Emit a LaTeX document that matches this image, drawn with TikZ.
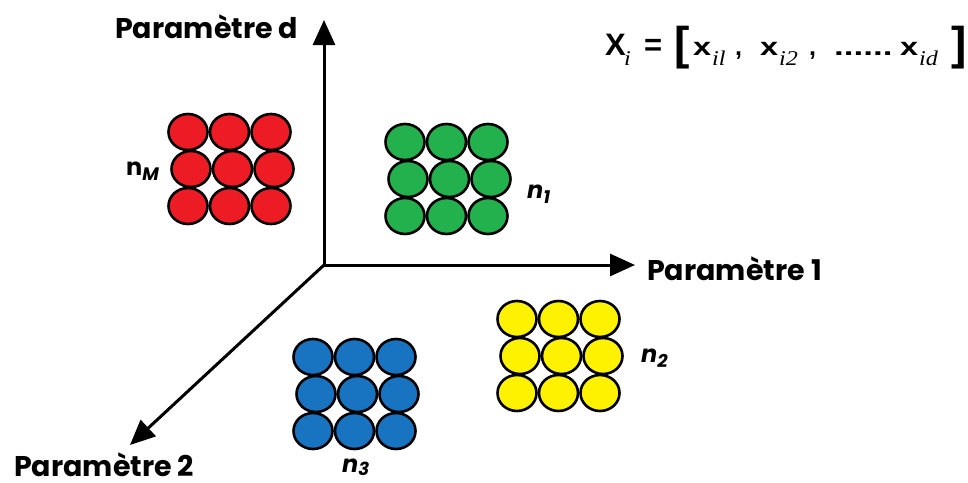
\documentclass[tikz,border=0pt]{standalone}
\usepackage{fontspec}
\setmainfont{Poppins}
\newfontfamily\formfont{Liberation Sans}
\newfontfamily\subfont{Liberation Serif}
\usetikzlibrary{arrows.meta,shapes.geometric}
\tikzset{
  axis/.style={line width=3pt,-{Triangle[length=25pt,width=22pt]}},
  axlabel/.style={font=\fontsize{28.5}{29}\selectfont\bfseries,inner sep=0pt,anchor=base west},
  grp/.style={font=\fontsize{24}{24}\selectfont\bfseries\itshape,inner sep=0pt,anchor=base west},
  ball/.style={ellipse,draw=black,line width=2.6pt,minimum width=39pt,minimum height=36pt,inner sep=0pt},
}
\definecolor{cred}{HTML}{ED1C24}
\definecolor{cgreen}{HTML}{22B14C}
\definecolor{cyellow}{HTML}{FFF200}
\definecolor{cblue}{HTML}{1874C0}
\newcommand{\putat}[2]{\rlap{\hspace*{#1pt}#2}}
\newcommand{\sbs}[1]{\raisebox{-10pt}{\scalebox{1.15}[1]{\fontsize{21}{21}\selectfont\subfont\mdseries\itshape #1}}}
\newcommand{\bx}{\scalebox{1.3}[1]{\fontsize{25}{25}\selectfont x}}
\begin{document}
\begin{tikzpicture}[x=1pt,y=-1pt]
\useasboundingbox (0,0) rectangle (968,482);
\coordinate (O) at (324,265);
\coordinate (Dtip) at (324,20);
\coordinate (Atip) at (635,265);
\coordinate (Btip) at (130,445);
\draw[axis] (O) -- (Dtip);
\draw[axis] (O) -- (Atip);
\draw[axis] (O) -- (Btip);
\node[axlabel] (ld) at (115,38) {Paramètre d};
\node[axlabel] (l1) at (647,280) {Paramètre 1};
\node[axlabel] (l2) at (14,476) {\raisebox{0pt}[\height][0pt]{Paramètre 2}};
% groups
\foreach \c/\x/\y/\nm in {cred/188/132/r,cgreen/405/142/g,cyellow/517/319/y,cblue/313/357/b}{
  \foreach \i in {0,1,2}{
    \foreach \j in {0,1,2}{
      \node[ball,fill=\c] (\nm\i\j) at ({\x+41.5*\i+(\j==1?3:0)},{\y+37*\j}) {};
    }
  }
}
\node[inner sep=0pt,anchor=base west,font=\fontsize{24}{24}\selectfont\bfseries] (nM) at (126,175) {n\raisebox{-5pt}{\fontsize{18}{18}\selectfont\itshape M}};
\node[grp] (n1) at (527,198) {n\raisebox{-5pt}{\fontsize{18}{18}\selectfont 1}};
\node[grp] (n2) at (641,362) {n\raisebox{-5pt}{\fontsize{18}{18}\selectfont 2}};
\node[grp] (n3) at (342,472) {n\raisebox{-3pt}{\fontsize{18}{18}\selectfont 3}};
\node[inner sep=0pt,anchor=base west,font=\formfont\bfseries] (form) at (605,55)
 {\putat{0}{\fontsize{31}{31}\selectfont X}%
  \putat{19}{\sbs{i}}%
  \putat{39}{\fontsize{31}{31}\selectfont =}%
  \putat{69}{\raisebox{-4pt}{\fontsize{46}{46}\selectfont [}}%
  \putat{88}{\bx}%
  \putat{107}{\sbs{il}}%
  \putat{130}{\fontsize{25}{25}\selectfont ,}%
  \putat{155}{\bx}%
  \putat{174}{\sbs{i2}}%
  \putat{204}{\fontsize{25}{25}\selectfont ,}%
  \putat{229}{\scalebox{1.4}[1]{\fontsize{25}{25}\selectfont ......}}%
  \putat{295}{\bx}%
  \putat{314}{\sbs{id}}%
  \putat{346}{\raisebox{-4pt}{\fontsize{46}{46}\selectfont ]}}%
  \hspace*{360pt}};
\end{tikzpicture}
\end{document}
